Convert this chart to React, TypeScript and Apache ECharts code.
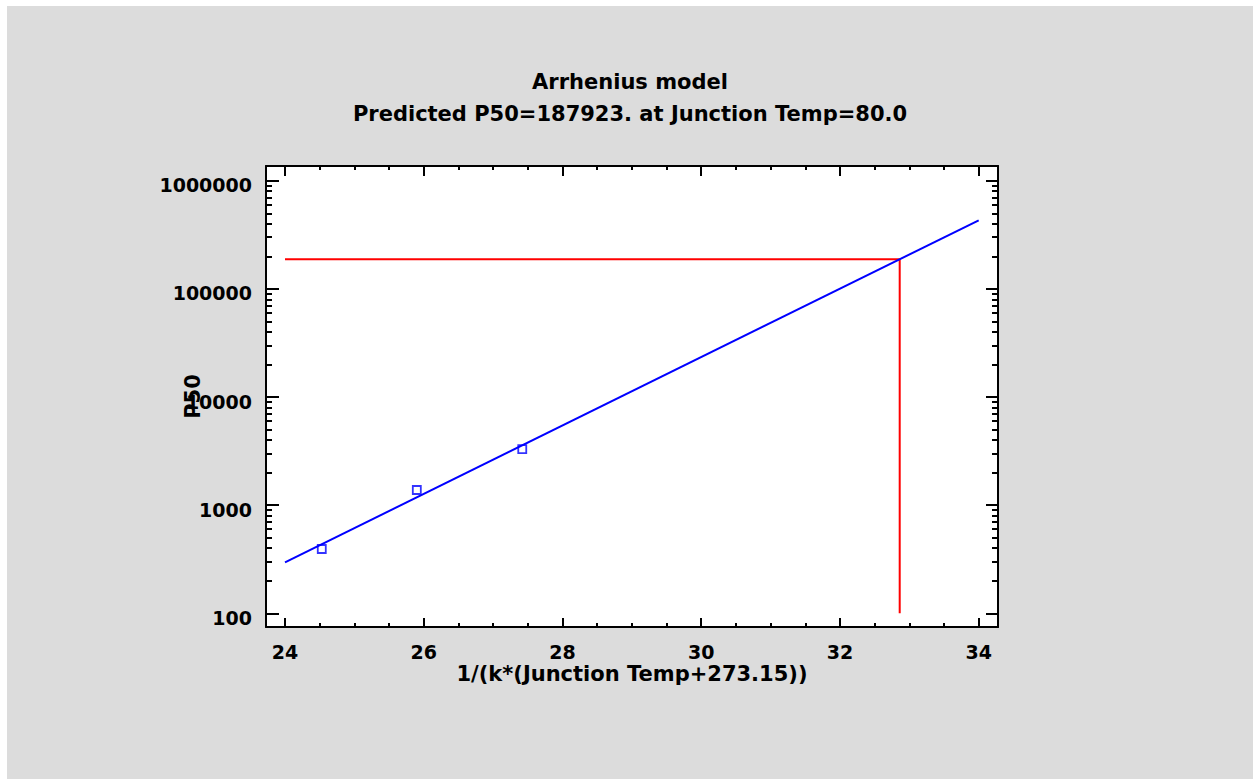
import React, { useEffect, useRef } from "react";
import * as echarts from "echarts";

// ---- data ----
const titleLines = ["Arrhenius model", "Predicted P50=187923. at Junction Temp=80.0"];
const xAxisName = "1/(k*(Junction Temp+273.15))";
const yAxisName = "P50";

const xMajorTicks = [24, 26, 28, 30, 32, 34];
const xMinorTicks = [24.5, 25, 25.5, 26.5, 27, 27.5, 28.5, 29, 29.5, 30.5, 31, 31.5, 32.5, 33, 33.5];
const yMajorTicks = [100, 1000, 10000, 100000, 1000000];
const yMinorTicks = [
  200, 300, 400, 500, 600, 700, 800, 900,
  2000, 3000, 4000, 5000, 6000, 7000, 8000, 9000,
  20000, 30000, 40000, 50000, 60000, 70000, 80000, 90000,
  200000, 300000, 400000, 500000, 600000, 700000, 800000, 900000,
];

// fitted Arrhenius line (straight on the log axis): endpoints
const fitLine: [number, number][] = [
  [24, 296],
  [34, 430500],
];
// observed P50 values
const observed: [number, number][] = [
  [24.53, 393],
  [25.9, 1380],
  [27.42, 3300],
];
// prediction at 80 °C
const predX = 32.861;
const predP50 = 187923;
const predLine: [number, number][] = [
  [24, predP50],
  [predX, predP50],
  [predX, 100],
];

const X_MIN = 23.726;
const X_MAX = 34.278;
const Y_MIN = 74.7;
const Y_MAX = 1367500;

const FONT = "DejaVu Sans";

export default function App() {
  const ref = useRef<HTMLDivElement>(null);

  useEffect(() => {
    if (!ref.current) return;
    const chart = echarts.init(ref.current, undefined, { renderer: "svg" });

    const black = "#000000";
    const tickStyle = { color: black, width: 2 };
    const noLabel = { show: false };
    const baseX = {
      type: "value" as const,
      min: X_MIN,
      max: X_MAX,
      splitLine: { show: false },
      gridIndex: 0,
    };
    const baseY = {
      type: "log" as const,
      logBase: 10,
      min: Y_MIN,
      max: Y_MAX,
      splitLine: { show: false },
      gridIndex: 0,
    };

    chart.setOption({
      animation: false,
      backgroundColor: "#dcdcdc",
      title: {
        text: titleLines.join("\n"),
        left: "center",
        top: 60,
        padding: [0, 0, 0, 3],
        textStyle: {
          fontFamily: FONT,
          fontWeight: "bold",
          fontSize: 21,
          lineHeight: 32,
          color: black,
        },
      },
      grid: {
        left: 259,
        top: 160,
        width: 732,
        height: 461,
        show: true,
        backgroundColor: "#ffffff",
        borderWidth: 0,
      },
      xAxis: [
        {
          ...baseX,
          position: "bottom",
          axisLine: { show: true, lineStyle: tickStyle },
          axisTick: { show: true, inside: true, length: 9, lineStyle: tickStyle, customValues: xMajorTicks },
          axisLabel: {
            show: true,
            customValues: xMajorTicks,
            margin: 15,
            color: black,
            fontFamily: FONT,
            fontWeight: "bold",
            fontSize: 19,
            formatter: (v: number) => String(v),
          },
          name: xAxisName,
          nameLocation: "middle",
          nameGap: 36,
          nameMoveOverlap: false,
          nameTextStyle: { fontFamily: FONT, fontWeight: "bold", fontSize: 21, color: black },
        },
        {
          ...baseX,
          position: "bottom",
          axisLine: { show: false },
          axisTick: { show: true, inside: true, length: 4, lineStyle: tickStyle, customValues: xMinorTicks },
          axisLabel: noLabel,
        },
        {
          ...baseX,
          position: "top",
          axisLine: { show: true, lineStyle: tickStyle },
          axisTick: { show: true, inside: true, length: 10, lineStyle: tickStyle, customValues: xMajorTicks },
          axisLabel: noLabel,
        },
        {
          ...baseX,
          position: "top",
          axisLine: { show: false },
          axisTick: { show: true, inside: true, length: 4, lineStyle: tickStyle, customValues: xMinorTicks },
          axisLabel: noLabel,
        },
      ],
      yAxis: [
        {
          ...baseY,
          position: "left",
          axisLine: { show: true, lineStyle: tickStyle },
          axisTick: { show: true, inside: true, length: 13, lineStyle: tickStyle, customValues: yMajorTicks },
          axisLabel: {
            show: true,
            customValues: yMajorTicks,
            margin: 14,
            verticalAlign: "top",
            lineHeight: 9,
            color: black,
            fontFamily: FONT,
            fontWeight: "bold",
            fontSize: 19,
            formatter: (v: number) => String(Math.round(v)),
          },
          name: yAxisName,
          nameLocation: "middle",
          nameRotate: 90,
          nameGap: 63,
          nameMoveOverlap: false,
          nameTextStyle: { fontFamily: FONT, fontWeight: "bold", fontSize: 21, color: black },
        },
        {
          ...baseY,
          position: "left",
          axisLine: { show: false },
          axisTick: { show: true, inside: true, length: 6, lineStyle: tickStyle, customValues: yMinorTicks },
          axisLabel: noLabel,
        },
        {
          ...baseY,
          position: "right",
          axisLine: { show: true, lineStyle: tickStyle },
          axisTick: { show: true, inside: true, length: 12, lineStyle: tickStyle, customValues: yMajorTicks },
          axisLabel: noLabel,
        },
        {
          ...baseY,
          position: "right",
          axisLine: { show: false },
          axisTick: { show: true, inside: true, length: 6, lineStyle: tickStyle, customValues: yMinorTicks },
          axisLabel: noLabel,
        },
      ],
      series: [
        {
          name: "Prediction",
          type: "line",
          xAxisIndex: 0,
          yAxisIndex: 0,
          data: predLine,
          showSymbol: false,
          symbol: "none",
          lineStyle: { color: "#ff0000", width: 2 },
          z: 2,
        },
        {
          name: "Fitted",
          type: "line",
          xAxisIndex: 0,
          yAxisIndex: 0,
          data: fitLine,
          showSymbol: false,
          symbol: "none",
          lineStyle: { color: "#0000ff", width: 2 },
          z: 3,
        },
        {
          name: "Observed",
          type: "scatter",
          xAxisIndex: 0,
          yAxisIndex: 0,
          data: observed,
          symbol: "rect",
          symbolSize: 8,
          itemStyle: { color: "rgba(0,0,0,0)", borderColor: "#0000ff", borderWidth: 1.8 },
          z: 4,
        },
      ],
    });

    return () => {
      chart.dispose();
    };
  }, []);

  return (
    <div
      ref={ref}
      style={{ position: "fixed", left: 7, top: 6, width: 1246, height: 773, background: "#dcdcdc" }}
    />
  );
}
